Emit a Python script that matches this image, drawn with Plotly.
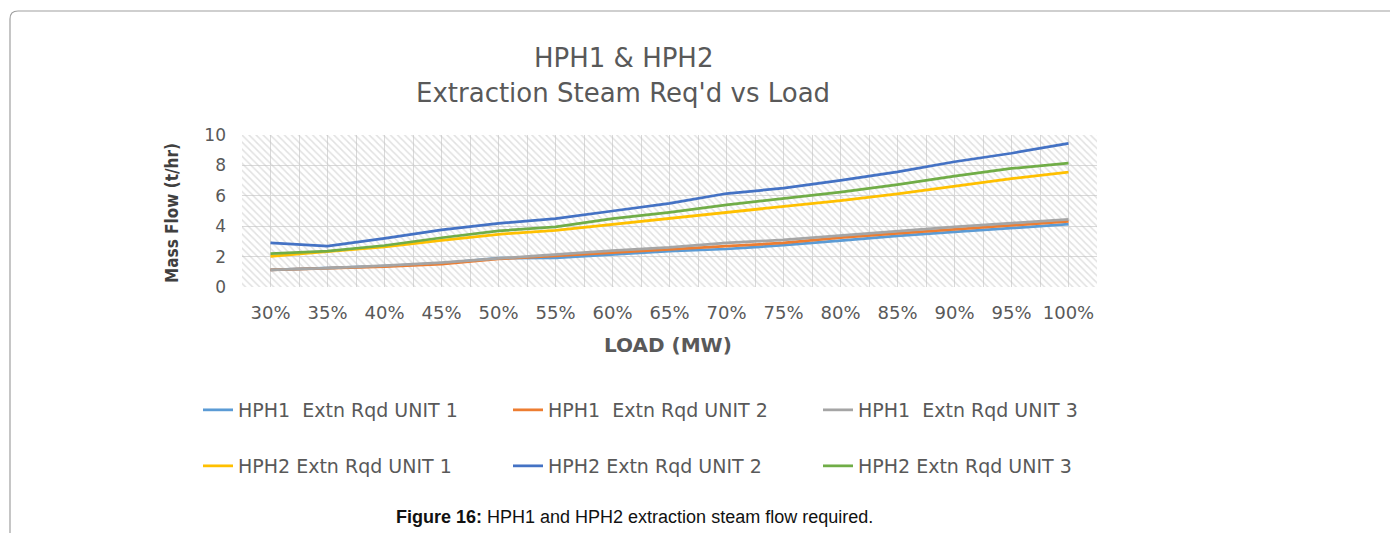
import plotly.graph_objects as go

# chart data
loads = ["30%", "35%", "40%", "45%", "50%", "55%", "60%", "65%",
         "70%", "75%", "80%", "85%", "90%", "95%", "100%"]

hph1_unit1 = [1.13, 1.24, 1.38, 1.55, 1.90, 1.92, 2.13, 2.36, 2.50, 2.75, 3.05, 3.36, 3.62, 3.89, 4.13]
hph1_unit2 = [1.13, 1.24, 1.34, 1.50, 1.85, 2.05, 2.25, 2.47, 2.69, 2.90, 3.25, 3.53, 3.80, 4.07, 4.31]
hph1_unit3 = [1.13, 1.24, 1.40, 1.60, 1.88, 2.15, 2.40, 2.60, 2.90, 3.10, 3.40, 3.69, 3.96, 4.20, 4.45]
hph2_unit1 = [2.02, 2.33, 2.64, 3.07, 3.47, 3.73, 4.12, 4.50, 4.90, 5.30, 5.69, 6.13, 6.64, 7.13, 7.55]
hph2_unit2 = [2.90, 2.69, 3.20, 3.76, 4.18, 4.50, 5.00, 5.50, 6.15, 6.50, 7.02, 7.58, 8.24, 8.80, 9.45]
hph2_unit3 = [2.20, 2.36, 2.73, 3.24, 3.69, 3.96, 4.50, 4.91, 5.40, 5.84, 6.24, 6.73, 7.29, 7.80, 8.15]

series_names = ["HPH1\u00a0 Extn Rqd UNIT 1", "HPH1\u00a0 Extn Rqd UNIT 2", "HPH1\u00a0 Extn Rqd UNIT 3",
                "HPH2 Extn Rqd UNIT 1", "HPH2 Extn Rqd UNIT 2", "HPH2 Extn Rqd UNIT 3"]
series_values = [hph1_unit1, hph1_unit2, hph1_unit3, hph2_unit1, hph2_unit2, hph2_unit3]
colors = ["#5B9BD5", "#ED7D31", "#A5A5A5", "#FFC000", "#4472C4", "#70AD47"]

y_max = 10
xpos = list(range(len(loads)))

# page body has an 8px margin, so the figure sits 8px in from the window corner
OFF = 8
W, H = 1398 - OFF, 533 - OFF
# plot area in window pixels (left, right, top, bottom)
L, R, T, B = 242, 1097, 135, 287


def px(p):
    return (p - L) / (R - L)


def py(p):
    return (B - p) / (B - T)


grey_text = "#595959"
font_main = "DejaVu Sans, Open Sans, sans-serif"

fig = go.Figure()

# hatched plot-area fill (Excel style)
fig.add_trace(go.Bar(
    x=xpos, y=[y_max] * len(loads), width=1, showlegend=False, hoverinfo="skip",
    marker=dict(color="rgba(0,0,0,0)", line_width=0,
                pattern=dict(shape="\\", fgcolor="#c4c4c4", bgcolor="rgba(0,0,0,0)",
                             size=5, solidity=0.3, fillmode="overlay")),
))

for i, (name, vals) in enumerate(zip(series_names, series_values)):
    fig.add_trace(go.Scatter(
        x=xpos, y=vals, mode="lines", name=name,
        line=dict(color=colors[i], width=2.75),
        legend="legend" if i < 3 else "legend2",
    ))

# gridlines at every category and every category boundary
grid_vals = [v / 2 for v in range(-1, 2 * len(loads))]
grid_text = [loads[int(v)] if v == int(v) else "" for v in grid_vals]

fig.update_xaxes(
    range=[-0.5, len(loads) - 0.5], tickmode="array", tickvals=grid_vals, ticktext=grid_text,
    showgrid=True, gridcolor="#d9d9d9", gridwidth=1, zeroline=False, ticks="",
    tickfont=dict(family=font_main, size=18, color=grey_text), ticklabelstandoff=13,
)
fig.update_yaxes(
    range=[0, y_max], dtick=2, showgrid=True, gridcolor="#d9d9d9", gridwidth=1,
    zeroline=False, ticks="", tickfont=dict(family=font_main, size=17, color=grey_text),
    ticklabelstandoff=15,
)

legend_common = dict(
    orientation="h", xanchor="left", yanchor="middle", entrywidth=265, entrywidthmode="pixels",
    font=dict(family=font_main, size=19, color=grey_text), bgcolor="rgba(0,0,0,0)",
    itemclick=False, itemdoubleclick=False,
)

fig.update_layout(
    width=W, height=H,
    margin=dict(l=L - OFF, r=W - (R - OFF), t=T - OFF, b=H - (B - OFF)),
    plot_bgcolor="white", paper_bgcolor="white",
    barmode="overlay", bargap=0,
    legend=dict(x=px(198), y=py(410), **legend_common),
    legend2=dict(x=px(198), y=py(466), **legend_common),
    showlegend=True,
)


def label(text, x, y, font, angle=0):
    fig.add_annotation(text=text, x=px(x), y=py(y), xref="paper", yref="paper",
                       xanchor="center", yanchor="middle", showarrow=False,
                       textangle=angle, font=font)


# titles
label("HPH1 & HPH2", 623, 58, dict(family=font_main, size=26, color=grey_text))
label("Extraction Steam Req'd vs Load", 623, 93, dict(family=font_main, size=26, color=grey_text))
label("<b>LOAD (MW)</b>", 668, 345, dict(family=font_main, size=20, color=grey_text))
label("<b>Mass Flow (t/hr)</b>", 172, 213,
      dict(family="Liberation Sans Narrow, DejaVu Sans Condensed, sans-serif", size=17, color="#404040"),
      angle=-90)

# figure caption
label("<b>Figure 16:</b> HPH1 and HPH2 extraction steam flow required.", 634, 517,
      dict(family="Liberation Sans, Arial, sans-serif", size=18, color="#111111"))

# rounded page frame
r = 8
frame = (f"M {px(10)},{py(H + 20)} L {px(10)},{py(11 + r)} "
         f"Q {px(10)},{py(11)} {px(10 + r)},{py(11)} L {px(W + 20)},{py(11)}")
fig.add_shape(type="path", path=frame, xref="paper", yref="paper",
              line=dict(color="#a0a0a0", width=1.2), layer="above")

fig.write_html("out.html")
